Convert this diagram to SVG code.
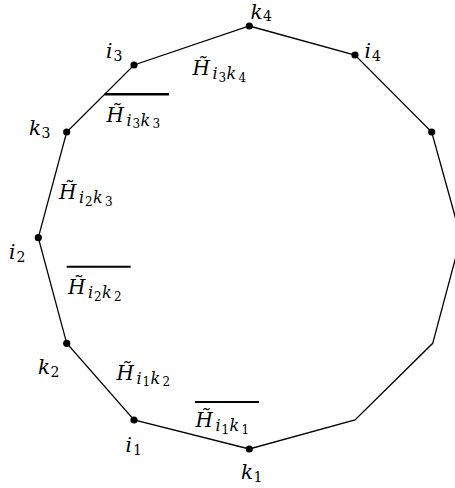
<svg xmlns="http://www.w3.org/2000/svg" width="455" height="488" viewBox="0 0 455 488">
<defs>
<style>
.e{fill:none;stroke:#000;stroke-width:1.3;stroke-linejoin:miter}
.d{fill:#000}
.bar{stroke:#000;stroke-width:2}
.bar.t{stroke-width:2.4}
text{font-family:"DejaVu Serif",serif;font-style:italic;fill:#000}
.m{font-size:20px}
.s{font-size:16px}
.n{font-size:12px;font-style:normal}
.v{font-size:14px;font-style:normal}
</style>
</defs>
<rect width="455" height="488" fill="#fff"/>
<g id="connectors">
<polygon class="e" points="249.3,26 355,55 431.7,132 461,237.7 432.7,343.3 355,420 249.3,449 134,420 66.7,343.3 38.3,237.7 66.7,132 134,65"/>
</g>
<g id="bars">
<line class="bar t" x1="104.5" y1="94.3" x2="169" y2="94.3"/>
<line class="bar" x1="66.7" y1="266.7" x2="130.7" y2="266.7"/>
<line class="bar" x1="195" y1="402" x2="259" y2="402"/>
</g>
<g id="k4"><circle class="d" cx="249.3" cy="26" r="3.6"/><text class="m" x="250.5" y="18.5">k<tspan class="v" x="263" y="21">4</tspan></text></g>
<g id="i4"><circle class="d" cx="355" cy="55" r="3.6"/><text class="m" x="364.5" y="58">i<tspan class="v" x="372" y="61">4</tspan></text></g>
<g id="v_r"><circle class="d" cx="431.7" cy="132" r="3.6"/></g>
<g id="i3"><circle class="d" cx="134" cy="65" r="3.6"/><text class="m" x="106" y="57.5">i<tspan class="v" x="113.5" y="60.5">3</tspan></text></g>
<g id="k3"><circle class="d" cx="66.7" cy="132" r="3.6"/><text class="m" x="29" y="135">k<tspan class="v" x="41.5" y="138">3</tspan></text></g>
<g id="i2"><circle class="d" cx="38.3" cy="237.7" r="3.6"/><text class="m" x="9" y="259">i<tspan class="v" x="16.5" y="262">2</tspan></text></g>
<g id="k2"><circle class="d" cx="66.7" cy="343.3" r="3.6"/><text class="m" x="38" y="373.5">k<tspan class="v" x="50.5" y="376.5">2</tspan></text></g>
<g id="i1"><circle class="d" cx="134" cy="420" r="3.6"/><text class="m" x="125.5" y="451.5">i<tspan class="v" x="133" y="454.5">1</tspan></text></g>
<g id="k1"><circle class="d" cx="249.3" cy="449" r="3.6"/><text class="m" x="241" y="478.5">k<tspan class="v" x="253.5" y="481.5">1</tspan></text></g>
<g id="H_i3k4"><text class="m" x="192.5" y="75">H&#x303;<tspan class="s" x="212.5" y="79">i</tspan><tspan class="n" x="218.5" y="81.5">3</tspan><tspan class="s" x="226.5" y="79">k</tspan><tspan class="n" x="238.5" y="81.5">4</tspan></text></g>
<g id="H_i3k3"><text class="m" x="106.5" y="121.5">H&#x303;<tspan class="s" x="126.5" y="125.5">i</tspan><tspan class="n" x="132.5" y="128">3</tspan><tspan class="s" x="140.5" y="125.5">k</tspan><tspan class="n" x="152.5" y="128">3</tspan></text></g>
<g id="H_i2k3"><text class="m" x="59" y="199">H&#x303;<tspan class="s" x="79" y="203">i</tspan><tspan class="n" x="85" y="205.5">2</tspan><tspan class="s" x="93" y="203">k</tspan><tspan class="n" x="105" y="205.5">3</tspan></text></g>
<g id="H_i2k2"><text class="m" x="68" y="294">H&#x303;<tspan class="s" x="88" y="298">i</tspan><tspan class="n" x="94" y="300.5">2</tspan><tspan class="s" x="102" y="298">k</tspan><tspan class="n" x="114" y="300.5">2</tspan></text></g>
<g id="H_i1k2"><text class="m" x="116.5" y="379.5">H&#x303;<tspan class="s" x="136.5" y="383.5">i</tspan><tspan class="n" x="142.5" y="386">1</tspan><tspan class="s" x="150.5" y="383.5">k</tspan><tspan class="n" x="162.5" y="386">2</tspan></text></g>
<g id="H_i1k1"><text class="m" x="195.5" y="427">H&#x303;<tspan class="s" x="215.5" y="431">i</tspan><tspan class="n" x="221.5" y="433.5">1</tspan><tspan class="s" x="229.5" y="431">k</tspan><tspan class="n" x="241.5" y="433.5">1</tspan></text></g>
</svg>
